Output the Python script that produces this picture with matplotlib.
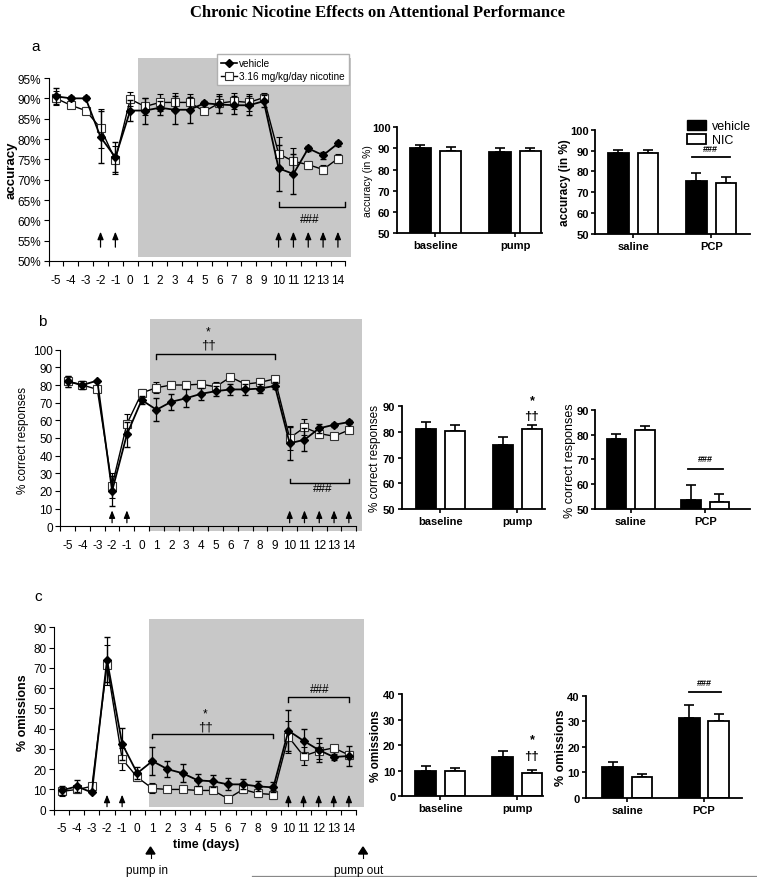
import matplotlib
matplotlib.use('Agg')
import matplotlib.pyplot as plt
from matplotlib.patches import Patch
from matplotlib.lines import Line2D

W, H = 757, 878

# ---- data ----
days = list(range(-5, 15))

acc_veh = [90.5, 90, 90, 80.5, 75.5, 87, 87, 87.7, 87.2, 87.2, 88.8, 88.5, 88.3, 88.3, 89.3, 72.8, 71.4, 77.7, 76, 78.9]
acc_veh_err = [2, 0.5, 0.5, 6.3, 3.7, 2.5, 3.2, 1.7, 3.5, 3.2, 0.5, 2, 2.2, 2.3, 1.5, 5.7, 5, 0.7, 0.9, 0.5]
acc_nic = [90, 88.3, 87, 82.7, 74.8, 89.8, 88, 89, 89, 89, 86.8, 88.8, 89.3, 89, 90.2, 76.4, 74.5, 73.7, 72.5, 75.2]
acc_nic_err = [1.7, 0.5, 0.8, 4.8, 3.5, 1.8, 2.2, 2, 2.2, 2, 0.7, 2.3, 2, 2, 1.2, 4, 3.2, 1, 1.2, 1]

cor_veh = [82, 80, 82.5, 20, 52, 71.5, 66, 70.5, 72.5, 75, 76.5, 77.5, 77.5, 78, 79.5, 47, 49, 55.5, 57.5, 59]
cor_veh_err = [3, 2.5, 0.5, 8.5, 7, 2.5, 6.5, 4.5, 5, 3.5, 3, 3, 3, 2.5, 2, 9.5, 6.5, 2.5, 1, 1]
cor_nic = [82, 80, 77.5, 23, 58, 75.5, 78.5, 80, 80, 80.5, 79, 84.5, 80.5, 81.5, 83.5, 50, 56, 52.5, 51, 54.5]
cor_nic_err = [3, 2, 1, 7, 5.5, 2.5, 3, 2, 2.5, 2, 2.5, 2, 2.5, 2.5, 1.5, 7, 4.5, 2.5, 1, 1.5]

om_veh = [9.5, 11.5, 8.5, 74, 32.5, 18, 24, 20, 18, 14.5, 14, 12.5, 12.5, 11.5, 11, 39, 34, 29.5, 26, 26.5]
om_veh_err = [2, 3, 0.5, 11, 8, 3, 7, 4, 4.5, 3, 3, 3, 2.5, 2.5, 2.5, 10, 6, 6, 1.5, 5]
om_nic = [9, 10, 11.5, 71.5, 25, 16, 10.5, 10, 10, 9.5, 9.5, 5.5, 10, 8, 7.5, 36, 26.5, 29, 30.5, 27]
om_nic_err = [2, 2, 1, 10, 5.5, 2, 2.5, 1.5, 1.5, 1.5, 1, 1, 2, 1.5, 2, 8, 4.5, 4, 1, 2]

arrow_days = [-2, -1, 10, 11, 12, 13, 14]

phase_labels = ['baseline', 'pump']
drug_labels = ['saline', 'PCP']

acc_phase_veh, acc_phase_veh_err = [90, 88.2], [1.8, 1.8]
acc_phase_nic, acc_phase_nic_err = [88.8, 88.8], [1.7, 1.5]
acc_drug_veh, acc_drug_veh_err = [88.8, 75.5], [1.5, 3.7]
acc_drug_nic, acc_drug_nic_err = [88.9, 74.5], [1.6, 2.8]

cor_phase_veh, cor_phase_veh_err = [81.2, 75], [2.6, 3]
cor_phase_nic, cor_phase_nic_err = [80.2, 81], [2.6, 1.8]
cor_drug_veh, cor_drug_veh_err = [78, 53.8], [2.3, 5.9]
cor_drug_nic, cor_drug_nic_err = [81.7, 53], [1.9, 3.2]

om_phase_veh, om_phase_veh_err = [10, 15.3], [2, 2.3]
om_phase_nic, om_phase_nic_err = [10, 9.1], [1.2, 1.2]
om_drug_veh, om_drug_veh_err = [12.2, 31.2], [2, 5]
om_drug_nic, om_drug_nic_err = [8.2, 30], [1, 2.7]

plt.rcParams['font.family'] = ['Liberation Sans', 'DejaVu Sans']
plt.rcParams['axes.unicode_minus'] = False

fig = plt.figure(figsize=(W / 100, H / 100), dpi=100)


def add_ax(x0, y0, x1, y1):
    # pixel box (top-left origin) -> figure axes
    return fig.add_axes([x0 / W, 1 - y1 / H, (x1 - x0) / W, (y1 - y0) / H])


def fx(x, y):
    return x / W, 1 - y / H


def line_panel(ax, veh, veh_err, nic, nic_err, ylim, ybounds, yticks, gray, fmt=None):
    x0g, y0g, y1g = gray
    ax.fill_between([x0g, 20], y0g, y1g, color='#c8c8c8', lw=0, zorder=0)
    ax.errorbar(days, nic, yerr=nic_err, color='k', lw=1.0, elinewidth=0.9, capsize=2,
                marker='s', ms=6, mfc='white', mec='#333333', mew=0.8, zorder=3)
    ax.errorbar(days, veh, yerr=veh_err, color='k', lw=1.3, elinewidth=0.9, capsize=2,
                marker='D', ms=4.5, mfc='k', mec='k', zorder=4)
    ax.set_ylim(*ylim)
    ax.set_yticks(yticks)
    if fmt:
        ax.set_yticklabels([fmt % v for v in yticks])
    ax.spines['left'].set_bounds(*ybounds)
    ax.spines['bottom'].set_bounds(-5.5, 14.5)
    ax.spines['bottom'].set_position(('data', ybounds[0]))
    for s in ('top', 'right'):
        ax.spines[s].set_visible(False)
    ax.set_xticks(days)
    ax.set_xticks([d - 0.5 for d in days] + [14.5], minor=True)
    ax.tick_params(axis='x', which='major', length=0, pad=9, labelsize=8.5)
    ax.tick_params(axis='x', which='minor', length=3.5, width=0.8, direction='out')
    ax.tick_params(axis='y', length=3.5, width=0.8, labelsize=8.5, pad=2)
    ax.patch.set_visible(False)


def arrows(ax, y0, y1):
    for d in arrow_days:
        ax.annotate('', xy=(d, y1), xytext=(d, y0),
                    arrowprops=dict(arrowstyle='-|>,head_width=0.18,head_length=0.45',
                                    color='k', lw=0.9, shrinkA=0, shrinkB=0))


def bracket(ax, xa, xb, y, tick):
    ax.plot([xa, xa, xb, xb], [y + tick, y, y, y + tick], color='k', lw=1.0)


# ---------------- panel a ----------------
axa = add_ax(48.6, 58.7, 349.8, 262)
axa.set_xlim(-5.5, 14.8)
line_panel(axa, acc_veh, acc_veh_err, acc_nic, acc_nic_err, (50, 100), (50, 95),
           list(range(50, 96, 5)), (0.5, 51, 100), fmt='%d%%')
arrows(axa, 53.4, 57.2)
bracket(axa, 10, 14.45, 63.3, 1.1)
axa.text(12.1, 60.3, '###', ha='center', va='center', fontsize=8.5)
leg_handles = [Line2D([], [], color='k', marker='D', ms=4, mfc='k', lw=1.2),
               Line2D([], [], color='k', marker='s', ms=5.5, mfc='white', mec='#333333', mew=0.8, lw=1.0)]
axa.legend(leg_handles, ['vehicle', '3.16 mg/kg/day nicotine'], loc='upper left',
           bbox_to_anchor=(fx(212, 50)), bbox_transform=fig.transFigure,
           fontsize=7.2, handlelength=1.6, handletextpad=0.2, borderpad=0.4,
           labelspacing=0.3, fancybox=False, edgecolor='#b0b0b0', framealpha=1)
fig.text(*fx(12, 170), 'accuracy', rotation=90, ha='center', va='center', fontsize=9.5, fontweight='bold')
fig.text(*fx(36, 47), 'a', ha='center', va='center', fontsize=11)

# ---------------- panel b ----------------
axb = add_ax(60.3, 319.8, 360.7, 531.7)
axb.set_xlim(-5.5, 14.8)
line_panel(axb, cor_veh, cor_veh_err, cor_nic, cor_nic_err, (-2.5, 117.5), (0, 100),
           list(range(0, 101, 10)), (0.55, -2.5, 117.5))
arrows(axb, 2, 9)
bracket(axb, 1, 9, 97.6, -2.9)
axb.text(4.5, 103, '††', ha='center', va='center', fontsize=9.5)
axb.text(4.5, 110.5, '*', ha='center', va='center', fontsize=8.5)
bracket(axb, 10, 14, 24.5, 2.3)
axb.text(12.2, 21.5, '###', ha='center', va='center', fontsize=8.5)
fig.text(*fx(23, 440), '% correct responses', rotation=90, ha='center', va='center', fontsize=8.5)
fig.text(*fx(42, 322), 'b', ha='center', va='center', fontsize=11)

# ---------------- panel c ----------------
axc = add_ax(54.1, 620.2, 362.5, 810.7)
axc.set_xlim(-5.5, 14.9)
line_panel(axc, om_veh, om_veh_err, om_nic, om_nic_err, (0, 94), (0, 90),
           list(range(0, 91, 10)), (0.78, 1.2, 94))
arrows(axc, 1.5, 7.4)
bracket(axc, 1, 9, 37.3, -1.9)
axc.text(4.5, 41, '††', ha='center', va='center', fontsize=9.5)
axc.text(4.5, 47.5, '*', ha='center', va='center', fontsize=8.5)
bracket(axc, 10, 14, 55.4, -2.1)
axc.text(12.1, 59.7, '###', ha='center', va='center', fontsize=8.5)
fig.text(*fx(23, 713), '% omissions', rotation=90, ha='center', va='center', fontsize=9, fontweight='bold')
fig.text(*fx(38, 597), 'c', ha='center', va='center', fontsize=11)
fig.text(*fx(206, 845), 'time (days)', ha='center', va='center', fontsize=9, fontweight='bold')

# pump in / pump out markers
for xp, lab in [(150.5, 'pump in'), (363, 'pump out')]:
    fig.patches.append(plt.Polygon([fx(xp - 4.5, 855), fx(xp + 4.5, 855), fx(xp, 848)],
                                   closed=True, color='k', transform=fig.transFigure))
    fig.add_artist(Line2D([xp / W, xp / W], [1 - 855 / H, 1 - 859 / H], color='k', lw=0.8))
    fig.text(*fx(xp - 4, 871), lab, ha='center', va='center', fontsize=8.5)
fig.add_artist(Line2D([252 / W, 1], [1 - 876.5 / H, 1 - 876.5 / H], color='#888888', lw=0.9))


# ---------------- bar charts ----------------
def bar_panel(box, xlim, ylim, yticks, cats, veh, veh_err, nic, nic_err, ylabel, ylx, lab_size, lab_bold):
    ax = add_ax(*box)
    x = [0, 1]
    off, wid = 0.19, 0.265
    xv = [i - off for i in x]
    xn = [i + off for i in x]
    ax.bar(xv, veh, width=wid, bottom=0, color='k', edgecolor='k', lw=1.3, zorder=2)
    ax.bar(xn, nic, width=wid, bottom=0, color='white', edgecolor='k', lw=1.3, zorder=2)
    ax.errorbar(xv, veh, yerr=[[0, 0], veh_err], fmt='none', ecolor='k', elinewidth=1.2, capsize=3.5, capthick=1.2, zorder=1)
    ax.errorbar(xn, nic, yerr=[[0, 0], nic_err], fmt='none', ecolor='k', elinewidth=1.2, capsize=3.5, capthick=1.2, zorder=1)
    ax.set_xlim(*xlim)
    ax.set_ylim(*ylim)
    ax.set_yticks(yticks)
    ax.set_xticks(x)
    ax.set_xticklabels(cats)
    for s in ('top', 'right'):
        ax.spines[s].set_visible(False)
    for s in ('left', 'bottom'):
        ax.spines[s].set_linewidth(1.3)
    ax.tick_params(axis='y', length=3, width=1.2, pad=1.5, labelsize=8)
    ax.tick_params(axis='x', length=3, width=1.2, pad=2, labelsize=8)
    for t in ax.get_yticklabels() + ax.get_xticklabels():
        t.set_fontweight('bold')
    fig.text(*fx(ylx, (box[1] + box[3]) / 2), ylabel, rotation=90, ha='center', va='center',
             fontsize=lab_size, fontweight='bold' if lab_bold else 'normal')
    ax.patch.set_visible(False)
    return ax


b_a1 = bar_panel((396.7, 128.3, 541.7, 234), (-0.485, 1.332), (50, 100), range(50, 101, 10), phase_labels,
                 acc_phase_veh, acc_phase_veh_err, acc_phase_nic, acc_phase_nic_err, 'accuracy (in %)', 368, 7.5, False)
b_a2 = bar_panel((595, 130.7, 750, 235), (-0.49, 1.497), (50, 100), range(50, 101, 10), drug_labels,
                 acc_drug_veh, acc_drug_veh_err, acc_drug_nic, acc_drug_nic_err, 'accuracy (in %)', 565, 8.5, True)
b_a2.plot([0.75, 1.24], [86.9, 86.9], color='k', lw=1.3)
b_a2.text(0.995, 90.8, '###', ha='center', va='center', fontsize=6.5, fontweight='bold')
b_a2.legend([Patch(facecolor='k', edgecolor='k'), Patch(facecolor='white', edgecolor='k', lw=1.3)],
            ['vehicle', 'NIC'], loc='upper left', bbox_to_anchor=(fx(678, 112)), bbox_transform=fig.transFigure,
            frameon=False, fontsize=9, handlelength=1.5, handleheight=0.9, handletextpad=0.5, labelspacing=0.1,
            borderpad=0.2)

b_b1 = bar_panel((401.7, 407.3, 545, 510), (-0.503, 1.36), (50, 90), range(50, 91, 10), phase_labels,
                 cor_phase_veh, cor_phase_veh_err, cor_phase_nic, cor_phase_nic_err, '% correct responses', 375, 8.5, False)
b_b1.text(1.19, 92.2, '*', ha='center', va='center', fontsize=9, fontweight='bold', clip_on=False)
b_b1.text(1.19, 86.2, '††', ha='center', va='center', fontsize=9.5, fontweight='bold', clip_on=False)
b_b2 = bar_panel((595, 410.7, 750, 510), (-0.477, 1.6), (50, 90), range(50, 91, 10), drug_labels,
                 cor_drug_veh, cor_drug_veh_err, cor_drug_nic, cor_drug_nic_err, '% correct responses', 570, 9, False)
b_b2.plot([0.77, 1.24], [66.1, 66.1], color='k', lw=1.3)
b_b2.text(1.0, 70.5, '###', ha='center', va='center', fontsize=6.5, fontweight='bold')

b_c1 = bar_panel((401.7, 695, 542.7, 797.3), (-0.5, 1.33), (0, 40), range(0, 41, 10), phase_labels,
                 om_phase_veh, om_phase_veh_err, om_phase_nic, om_phase_nic_err, '% omissions', 376, 8.5, True)
b_c1.text(1.19, 22.4, '*', ha='center', va='center', fontsize=9, fontweight='bold', clip_on=False)
b_c1.text(1.19, 15.9, '††', ha='center', va='center', fontsize=9.5, fontweight='bold', clip_on=False)
b_c2 = bar_panel((586, 696.7, 741.7, 799), (-0.537, 1.49), (0, 40), range(0, 41, 10), drug_labels,
                 om_drug_veh, om_drug_veh_err, om_drug_nic, om_drug_nic_err, '% omissions', 561, 9, True)
b_c2.plot([0.81, 1.22], [41.6, 41.6], color='k', lw=1.3, clip_on=False)
b_c2.text(1.0, 45, '###', ha='center', va='center', fontsize=6.5, fontweight='bold', clip_on=False)

fig.text(*fx(378, 13), 'Chronic Nicotine Effects on Attentional Performance', ha='center', va='center',
         fontsize=12, fontweight='bold', family='Liberation Serif')

fig.savefig('out.png', dpi=100)
